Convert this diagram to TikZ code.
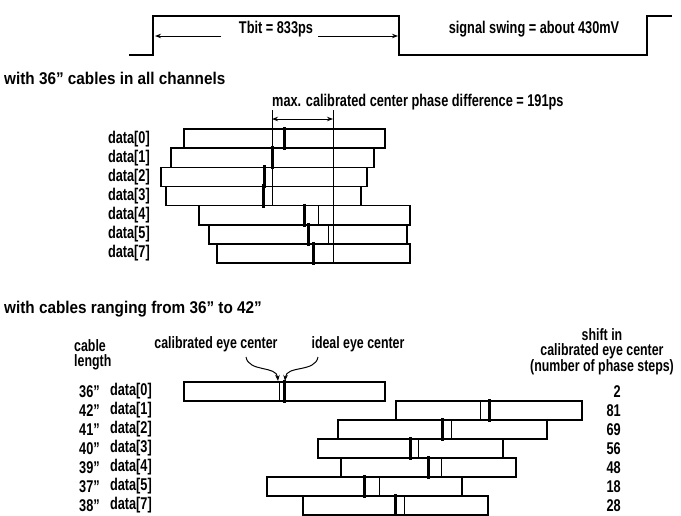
\documentclass[tikz,border=0pt]{standalone}
\usepackage{fontspec}
\setmainfont{Liberation Sans}[FakeStretch=0.75]
\newfontfamily\headfont{Liberation Sans}[FakeStretch=0.9]
\usetikzlibrary{arrows.meta}

\begin{document}
\begin{tikzpicture}[x=1pt,y=-1pt,font=\bfseries\fontsize{17}{17}\selectfont,>={Stealth[length=6pt,width=4.5pt]},
 wave/.style={line width=1.8pt},
 bar/.style={draw,line width=1.6pt},
 ideal/.style={line width=3pt},
 calib/.style={line width=0.8pt},
 lbl/.style={inner sep=0pt},
 heading/.style={lbl,anchor=west,font=\headfont\bfseries\fontsize{17}{17}\selectfont},
 stacked/.style={lbl,align=center,font=\bfseries\fontsize{16.5}{15}\selectfont},
 pointer/.style={->,line width=1pt}]
\useasboundingbox (0,0) rectangle (681,515);
% signal
\draw[wave] (129,55) -- (153,55) -- (153,16) -- (399,16) -- (399,55) -- (647,55) -- (647,16) -- (672,16);
\node[lbl] (tbit) at (276,29) {Tbit = 833ps};
\node[lbl] (swing) at (534,29) {signal swing = about 430mV};
\coordinate (tbitA) at (221,36); \coordinate (tbitL) at (155,36);
\coordinate (tbitB) at (318,36); \coordinate (tbitR) at (398,36);
\draw[pointer] (tbitA) -- (tbitL);
\draw[pointer] (tbitB) -- (tbitR);
% 36" cables
\node[heading] (head1) at (4,78) {with 36” cables in all channels};
\node[lbl,anchor=west] (maxdiff) at (272,102) {max. calibrated center phase difference = 191ps};
\coordinate (calmax) at (272,110); \coordinate (idmax) at (333,110);
\draw[calib] (calmax) -- (272,205);
\draw[calib] (idmax) -- (333,263);
\draw[pointer,<->] (272,119) -- (333,119);
\foreach \i/\xa/\xb/\xc [count=\k from 0] in {0/184/385/272,1/171/374/272,2/161/367/272,3/166/361/272,4/199/410/318,5/209/407/328,7/217/410/333}{
  \pgfmathsetmacro\yt{129+19.15*\k}
  \draw[bar] (\xa,\yt) rectangle (\xb,\yt+19.15);
  \draw[calib] (\xc,\yt) -- ++(0,19.15);
  \draw[ideal] ({(\xa+\xb)/2},\yt-2) -- ++(0,23.15);
  \node[lbl,anchor=east] (up\i) at (150,\yt+9.6) {data[\i]};
}
% 36" to 42" cables
\node[heading] (head2) at (4,309) {with cables ranging from 36” to 42”};
\node[stacked,align=left,anchor=west] (cablelen) at (74,355) {cable\\length};
\node[stacked] (calname) at (216,344) {calibrated eye center};
\node[stacked] (idname) at (358,344) {ideal eye center};
\node[stacked] (shift) at (602,352) {shift in\\calibrated eye center\\(number of phase steps)};
\coordinate (calfrom) at (246,357); \coordinate (calto) at (278,381);
\coordinate (idfrom) at (318,357); \coordinate (idto) at (285,381);
\draw[pointer] (calfrom) to[out=-80,in=95] (calto);
\draw[pointer] (idfrom) to[out=-100,in=85] (idto);
\foreach \len/\i/\xa/\xb/\xc/\steps [count=\k from 0] in {36/0/184/385/279/2,42/1/396/582/480/81,41/2/338/547/451/69,40/3/318/503/418/56,39/4/341/516/441/48,37/5/267/462/379/18,38/7/303/488/404/28}{
  \pgfmathsetmacro\yt{382+19*\k}
  \draw[bar] (\xa,\yt) rectangle (\xb,\yt+19);
  \draw[calib] (\xc,\yt) -- ++(0,19);
  \draw[ideal] ({(\xa+\xb)/2},\yt-2) -- ++(0,23);
  \node[lbl,anchor=east] (lo\i) at (152,\yt+9.5) {data[\i]};
  \node[lbl,anchor=east] (cab\i) at (100,\yt+9.5) {\len”};
  \node[lbl,anchor=east] (st\i) at (621,\yt+9.5) {\steps};
}
\end{tikzpicture}
\end{document}
